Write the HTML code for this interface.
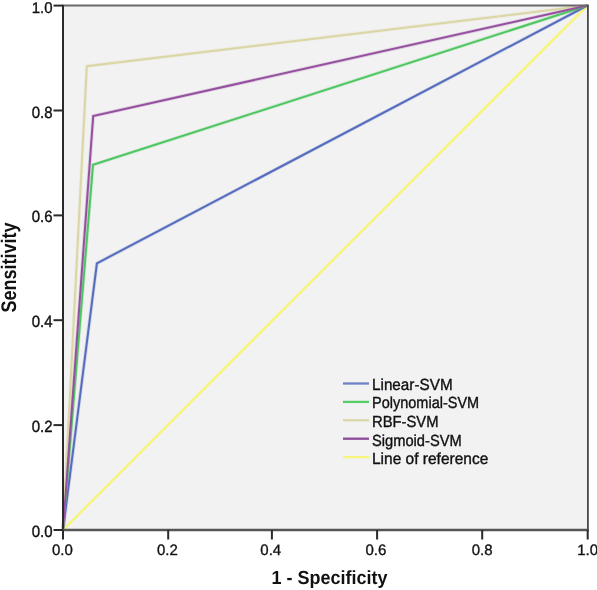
<!DOCTYPE html>
<html>
<head>
<meta charset="utf-8">
<style>
html,body{margin:0;padding:0;background:#fff;}
body{width:597px;height:590px;overflow:hidden;position:relative;font-family:"Liberation Sans",sans-serif;}
svg{position:absolute;left:0;top:0;display:block;will-change:transform;}
text{text-rendering:geometricPrecision;}
</style>
</head>
<body>
<svg width="597" height="590" viewBox="0 0 597 590" font-family="Liberation Sans, sans-serif">
  <!-- plot background -->
  <rect x="63" y="5.5" width="524.5" height="524.5" fill="#f2f2f2"/>

  <!-- curves: soft halo -->
  <g fill="none" stroke-width="3.6" stroke-linejoin="miter" stroke-opacity="0.22">
    <polyline points="63,530 587.5,5.5" stroke="#f8f573"/>
    <polyline points="63,530 96.9,263.3 587.5,5.5" stroke="#566cbd"/>
    <polyline points="63,530 93,164.8 587.5,5.5" stroke="#4ec661"/>
    <polyline points="63,530 86.8,66.2 587.5,5.5" stroke="#dad6a5"/>
    <polyline points="63,530 93.2,116 587.5,5.5" stroke="#9650a0"/>
  </g>
  <!-- curves: core -->
  <g fill="none" stroke-width="2" stroke-linejoin="miter">
    <polyline points="63,530 587.5,5.5" stroke="#f8f573"/>
    <polyline points="63,530 96.9,263.3 587.5,5.5" stroke="#566cbd"/>
    <polyline points="63,530 93,164.8 587.5,5.5" stroke="#4ec661"/>
    <polyline points="63,530 86.8,66.2 587.5,5.5" stroke="#dad6a5"/>
    <polyline points="63,530 93.2,116 587.5,5.5" stroke="#9650a0"/>
  </g>

  <!-- frame -->
  <line x1="62" y1="5.6" x2="588.8" y2="5.6" stroke="#6a6a6a" stroke-width="2"/>
  <line x1="587.9" y1="5" x2="587.9" y2="531" stroke="#474747" stroke-width="1.8"/>
  <line x1="63" y1="5" x2="63" y2="531" stroke="#2a2a2a" stroke-width="2"/>
  <line x1="62" y1="530" x2="588.8" y2="530" stroke="#555" stroke-width="2.3"/>

  <!-- y ticks -->
  <g stroke="#2a2a2a" stroke-width="2">
    <line x1="53.5" y1="5.6" x2="63" y2="5.6"/>
    <line x1="53.5" y1="110.5" x2="63" y2="110.5"/>
    <line x1="53.5" y1="215.4" x2="63" y2="215.4"/>
    <line x1="53.5" y1="320.2" x2="63" y2="320.2"/>
    <line x1="53.5" y1="425.1" x2="63" y2="425.1"/>
    <line x1="53.5" y1="530" x2="63" y2="530"/>
  </g>
  <!-- x ticks -->
  <g stroke="#2a2a2a" stroke-width="2">
    <line x1="63" y1="530" x2="63" y2="539.5"/>
    <line x1="168.2" y1="530" x2="168.2" y2="539.5"/>
    <line x1="271.9" y1="530" x2="271.9" y2="539.5"/>
    <line x1="377.1" y1="530" x2="377.1" y2="539.5"/>
    <line x1="482.2" y1="530" x2="482.2" y2="539.5"/>
    <line x1="587.7" y1="530" x2="587.7" y2="539.5"/>
  </g>

  <!-- y labels -->
  <g font-size="15" fill="#111" stroke="#111" stroke-width="0.35" text-anchor="end">
    <text transform="translate(52.6,12.6) scale(1,1.03)">1.0</text>
    <text transform="translate(52.6,118.25) scale(1,1.09)">0.8</text>
    <text transform="translate(52.6,222.25) scale(1,1.09)">0.6</text>
    <text transform="translate(52.6,327.25) scale(1,1.09)">0.4</text>
    <text transform="translate(52.6,432.25) scale(1,1.09)">0.2</text>
    <text transform="translate(52.6,537.05) scale(1,1.09)">0.0</text>
  </g>
  <!-- x labels -->
  <g font-size="15" fill="#111" stroke="#111" stroke-width="0.35" text-anchor="middle">
    <text x="62.4" y="554.9">0.0</text>
    <text x="167.4" y="554.9">0.2</text>
    <text x="270.8" y="554.9">0.4</text>
    <text x="375.9" y="554.9">0.6</text>
    <text x="482.2" y="554.9">0.8</text>
    <text x="587.6" y="554.9">1.0</text>
  </g>
  <!-- axis titles -->
  <text transform="translate(329.5,583.8) scale(1,1.06)" font-size="18" font-weight="bold" fill="#111" text-anchor="middle">1 - Specificity</text>
  <text transform="translate(15.7,267.6) rotate(-90) scale(1,1.17)" font-size="18" font-weight="bold" fill="#111" text-anchor="middle">Sensitivity</text>

  <!-- legend -->
  <g stroke-width="2.3">
    <line x1="343" y1="383.5" x2="369" y2="383.5" stroke="#6d80c6"/>
    <line x1="343" y1="401.9" x2="369" y2="401.9" stroke="#5bcc6a"/>
    <line x1="343" y1="420.3" x2="369" y2="420.3" stroke="#d9d6a8"/>
    <line x1="343" y1="438.7" x2="369" y2="438.7" stroke="#8c4a9a"/>
    <line x1="343" y1="457.1" x2="369" y2="457.1" stroke="#f8f57c"/>
  </g>
  <g font-size="15" fill="#111" stroke="#111" stroke-width="0.35">
    <text transform="translate(372,389.8) scale(1,1.07)" textLength="80.6" lengthAdjust="spacingAndGlyphs">Linear-SVM</text>
    <text transform="translate(372,408.4) scale(1,1.07)" textLength="107.2" lengthAdjust="spacingAndGlyphs">Polynomial-SVM</text>
    <text transform="translate(372,427.0) scale(1,1.07)" textLength="66.5" lengthAdjust="spacingAndGlyphs">RBF-SVM</text>
    <text transform="translate(372,445.6) scale(1,1.07)" textLength="89.7" lengthAdjust="spacingAndGlyphs">Sigmoid-SVM</text>
    <text transform="translate(372,464.2) scale(1,1.07)" textLength="116.3" lengthAdjust="spacingAndGlyphs">Line of reference</text>
  </g>
</svg>
</body>
</html>
